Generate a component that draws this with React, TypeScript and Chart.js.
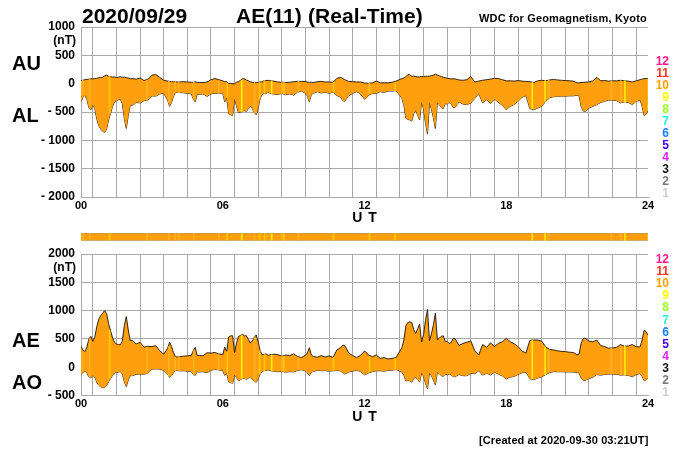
import { useEffect, useRef } from 'react';
import { Chart, registerables } from 'chart.js';

Chart.register(...registerables);

const FONT = '"Liberation Sans", Arial, sans-serif';
const GRID = '#a8a8a8';
const ORANGE = '#ff9f0d';
const OUTLINE = '#33240f';

// sample times in minutes of the day, one row per hour, closer together where the trace is sharp
const minutes = [
  0, 5, 10, 15, 20, 25, 30, 35, 40, 45, 50, 55,
  60, 65, 70, 75, 80, 85, 90, 95, 100, 105, 110, 115,
  120, 125, 130, 140, 150, 160, 170,
  180, 190, 200, 210, 220, 225, 230, 235,
  240, 250, 260, 270, 280, 285, 290, 295,
  300, 310, 320, 330, 340, 350,
  360, 365, 370, 375, 380, 385, 390, 395, 400, 405, 410, 415,
  420, 425, 430, 435, 440, 445, 450, 455, 460, 465, 470, 475,
  480, 490, 500, 510, 520, 530,
  540, 550, 560, 570, 575, 580, 585, 590,
  600, 610, 620, 630, 640, 650,
  660, 665, 670, 680, 690, 700, 710,
  720, 725, 730, 740, 750, 760, 770,
  780, 790, 800, 810, 815, 820, 825, 830, 835,
  840, 845, 850, 855, 860, 865, 870, 875, 880, 885, 890, 895,
  900, 905, 910, 915, 920, 925, 930, 935, 940, 945, 950, 955,
  960, 970, 980, 990, 1000, 1010,
  1020, 1030, 1040, 1050, 1060, 1070,
  1080, 1090, 1100, 1110, 1120, 1130,
  1140, 1150, 1160, 1170, 1180, 1190,
  1200, 1210, 1220, 1230, 1240, 1250,
  1260, 1265, 1270, 1275, 1280, 1290, 1300, 1310,
  1320, 1330, 1340, 1350, 1360, 1370,
  1380, 1390, 1400, 1410, 1420, 1425, 1430, 1435,
  1440,
];
const au = [
  55, 60, 70, 75, 80, 85, 85, 90, 95, 105, 110, 115,
  140, 150, 130, 125, 115, 120, 110, 115, 120, 115, 115, 105,
  100, 85, 90, 80, 100, 55, 80,
  150, 160, 110, 60, 45, 40, 35, 35,
  30, 30, 35, 30, 25, 25, 30, 25,
  20, 20, 30, 70, 90, 70,
  50, 35, 35, 5, 5, -5, -5, 30, 35, 60, 90, 85,
  65, 50, 35, 25, 15, 20, 20, 30, 30, 55, 55, 60,
  50, 45, 30, 25, 20, 25,
  35, 40, 40, 40, 30, 25, 25, 20,
  35, 40, 30, 30, 25, 95,
  110, 90, 70, 40, 35, 30, 30,
  10, 10, 5, 15, 45, 15, 15,
  15, 25, 45, 75, 90, 100, 120, 160, 160,
  130, 135, 125, 120, 120, 125, 125, 130, 130, 135, 140, 150,
  165, 155, 140, 125, 115, 105, 95, 90, 85, 85, 85, 75,
  65, 60, 70, 125, 30, 45,
  60, 70, 80, 95, 90, 70,
  50, 50, 45, 55, 45, 40,
  35, 20, 50, 60, 50, 65,
  75, 65, 60, 55, 50, 45,
  15, 15, 20, 22, 25, 30, 50, 110,
  50, 55, 45, 50, 50, 60,
  50, 45, 30, 50, 70, 80, 90, 90,
  95,
];
const al = [
  -315, -240, -205, -280, -420, -460, -370, -440, -620, -740, -800, -840,
  -860, -800, -640, -520, -410, -320, -300, -285, -275, -350, -620, -790,
  -560, -380, -390, -330, -340, -300, -290,
  -215, -220, -180, -170, -290, -400, -330, -220,
  -150, -155, -160, -170, -180, -270, -320, -180,
  -190, -180, -225, -180, -170, -165,
  -170, -320, -240, -530, -550, -560, -260, -400, -510, -500, -490, -470,
  -490, -440, -390, -440, -510, -550, -430, -260, -190, -170, -180, -150,
  -170, -185, -190, -170, -195, -180,
  -200, -150, -130, -170, -220, -320, -190, -170,
  -140, -165, -150, -170, -150, -210,
  -240, -300, -310, -210, -170, -140, -180,
  -275, -250, -210, -170, -170, -140, -155,
  -130, -130, -125, -210, -260, -380, -610, -630, -640,
  -660, -530, -470, -560, -640, -320, -450, -700, -890, -330, -450, -600,
  -790, -330, -370, -420, -440, -350, -360, -330, -350, -420, -420, -370,
  -320, -360, -370, -340, -260, -170,
  -340, -280, -350, -270, -330, -380,
  -460, -400, -370, -310, -240, -210,
  -440, -460, -430, -400, -310, -250,
  -230, -225, -220, -220, -215, -215,
  -205, -215, -400, -480, -490, -430, -400, -370,
  -330, -310, -290, -290, -300, -340,
  -320, -330, -370, -310, -290, -400, -560, -540,
  -470,
];
const ae = [
  370, 300, 275, 355, 500, 545, 455, 530, 715, 845, 910, 955,
  1000, 950, 770, 645, 525, 440, 410, 400, 395, 465, 735, 895,
  660, 465, 480, 410, 440, 355, 370,
  365, 380, 290, 230, 335, 440, 365, 255,
  180, 185, 195, 200, 205, 295, 350, 205,
  210, 200, 255, 250, 260, 235,
  220, 355, 275, 535, 555, 555, 255, 430, 545, 560, 580, 555,
  555, 490, 425, 465, 525, 570, 450, 290, 220, 225, 235, 210,
  220, 230, 220, 195, 215, 205,
  235, 190, 170, 210, 250, 345, 215, 190,
  175, 205, 180, 200, 175, 305,
  350, 390, 380, 250, 205, 170, 210,
  285, 260, 215, 185, 215, 155, 170,
  145, 155, 170, 285, 350, 480, 730, 790, 800,
  790, 665, 595, 680, 760, 445, 575, 830, 1020, 465, 590, 750,
  955, 485, 510, 545, 555, 455, 455, 420, 435, 505, 505, 445,
  385, 420, 440, 465, 290, 215,
  400, 350, 430, 365, 420, 450,
  510, 450, 415, 365, 285, 250,
  475, 480, 480, 460, 360, 315,
  305, 290, 280, 275, 265, 260,
  220, 230, 420, 502, 515, 460, 450, 480,
  380, 365, 335, 340, 350, 400,
  370, 375, 400, 360, 360, 480, 650, 630,
  565,
];
const ao = [
  -130, -90, -68, -103, -170, -188, -143, -175, -263, -318, -345, -363,
  -360, -325, -255, -198, -148, -100, -95, -85, -78, -118, -253, -343,
  -230, -148, -150, -125, -120, -123, -105,
  -33, -30, -35, -55, -123, -180, -148, -93,
  -60, -63, -63, -70, -78, -123, -145, -78,
  -85, -80, -98, -55, -40, -48,
  -60, -143, -103, -263, -273, -283, -133, -185, -238, -220, -200, -193,
  -213, -195, -178, -208, -248, -265, -205, -115, -80, -58, -63, -45,
  -60, -70, -80, -73, -88, -78,
  -83, -55, -45, -65, -95, -148, -83, -75,
  -53, -63, -60, -70, -63, -58,
  -65, -105, -120, -85, -68, -55, -75,
  -133, -120, -103, -78, -63, -63, -70,
  -58, -53, -40, -68, -85, -140, -245, -235, -240,
  -265, -198, -173, -220, -260, -98, -163, -285, -380, -98, -155, -225,
  -313, -88, -115, -148, -163, -123, -133, -120, -133, -168, -168, -148,
  -128, -150, -150, -108, -115, -63,
  -140, -105, -135, -88, -120, -155,
  -205, -175, -163, -128, -98, -85,
  -203, -220, -190, -170, -130, -93,
  -78, -80, -80, -83, -83, -85,
  -95, -100, -190, -229, -233, -200, -175, -130,
  -140, -128, -123, -120, -125, -140,
  -135, -143, -170, -130, -110, -160, -235, -225,
  -188,
];

// minutes where fewer stations reported: the yellow lines in the fill
const brightHours = [6.76, 8.03, 19.06, 19.6, 22.98, 23.98];
const midHours = [1.21, 6.19, 7.56, 7.77, 8.59, 10.69, 12.21, 13.3];
const weakHours = [0.12, 0.41, 2.83, 3.76, 4.03, 4.18, 4.81, 5.87, 7.39, 8.55, 9.25, 19.84, 22.49, 22.9];

const stationLabels = ['12', '11', '10', '9', '8', '7', '6', '5', '4', '3', '2', '1'];
const stationColors = ['#ff1a8c', '#ff3322', '#ffa000', '#ffff00', '#99ff22', '#22ffd5', '#1a80ff', '#4400ff', '#e622ff', '#111111', '#777777', '#cccccc'];

const toXY = (values: number[]) => values.map((y, i) => ({ x: minutes[i] / 60, y }));

function stripe(hrs: number[], lo: number[], hi: number[], color: string) {
  return {
    type: 'bar' as const,
    data: hrs.map((h) => {
      const a = minutes.findIndex((m) => m > h * 60) - 1;
      const b = a + 1;
      return { x: h, y: [Math.max(lo[a], lo[b]), Math.min(hi[a], hi[b])] };
    }),
    backgroundColor: color,
    barThickness: 1,
    order: 0,
  };
}

function panelConfig(upper: number[], lower: number[], yMin: number, yMax: number, top: number, bottom: number, height: number): any {
  return {
    data: {
      datasets: [
        { type: 'line', data: toXY(upper), borderColor: OUTLINE, borderWidth: 1, pointRadius: 0, tension: 0, fill: '+1', backgroundColor: ORANGE, order: 1 },
        { type: 'line', data: toXY(lower), borderColor: OUTLINE, borderWidth: 1, pointRadius: 0, tension: 0, fill: false, order: 1 },
        stripe(weakHours, lower, upper, '#ffb322'),
        stripe(midHours, lower, upper, '#ffc800'),
        stripe(brightHours, lower, upper, '#ffee00'),
      ],
    },
    options: {
      responsive: false,
      animation: false,
      layout: { padding: { top, right: 52, left: 0, bottom: 0 } },
      plugins: { legend: { display: false }, tooltip: { enabled: false } },
      scales: {
        x: {
          type: 'linear',
          min: 0,
          max: 24,
          offset: false,
          afterFit: (s: any) => { s.height = height - bottom; },
          grid: { color: GRID, drawTicks: false, lineWidth: 1 },
          border: { color: GRID },
          ticks: {
            stepSize: 1,
            autoSkip: false,
            maxRotation: 0,
            padding: 2,
            color: '#000',
            font: { family: FONT, size: 11, weight: 'bold' },
            callback: (v: number) => (v % 6 === 0 ? String(v).padStart(2, '0') : ''),
          },
        },
        y: {
          min: yMin,
          max: yMax,
          afterFit: (s: any) => { s.width = 81; },
          grid: { color: GRID, drawTicks: false, lineWidth: 1 },
          border: { color: GRID },
          ticks: {
            stepSize: 500,
            padding: 6,
            color: '#000',
            font: { family: FONT, size: 12, weight: 'bold' },
            callback: (v: number) => (v < 0 ? `- ${-v}` : String(v)),
          },
        },
      },
    },
  };
}

function stripConfig(): any {
  return {
    data: {
      datasets: [
        { type: 'line', data: [{ x: 0, y: 1 }, { x: 24, y: 1 }], borderColor: '#c08a30', borderWidth: 1, pointRadius: 0, fill: 'origin', backgroundColor: ORANGE, order: 1 },
        { type: 'line', data: [{ x: 0, y: 0 }, { x: 24, y: 0 }], borderColor: '#b0a080', borderWidth: 1, pointRadius: 0, fill: false, order: 1 },
        { type: 'bar', data: weakHours.map((x) => ({ x, y: [0, 1] })), backgroundColor: '#ffb322', barThickness: 1, order: 0 },
        { type: 'bar', data: midHours.map((x) => ({ x, y: [0, 1] })), backgroundColor: '#ffc800', barThickness: 1, order: 0 },
        { type: 'bar', data: brightHours.map((x) => ({ x, y: [0, 1] })), backgroundColor: '#ffee00', barThickness: 1, order: 0 },
      ],
    },
    options: {
      responsive: false,
      animation: false,
      plugins: { legend: { display: false }, tooltip: { enabled: false } },
      scales: {
        x: { type: 'linear', min: 0, max: 24, display: false, offset: false },
        y: { min: -0.1, max: 1.1, display: false },
      },
    },
  };
}

function Label({ x, y, text, size = 12, color = '#000', right = false, center = false, spacing = 0 }: any) {
  return (
    <span
      style={{
        position: 'absolute',
        top: y,
        left: right || center ? undefined : x,
        ...(right ? { right: 700 - x } : {}),
        ...(center ? { left: x, transform: 'translate(-50%, -50%)' } : { transform: 'translateY(-50%)' }),
        fontFamily: FONT,
        fontWeight: 'bold',
        fontSize: size,
        lineHeight: 1,
        color,
        letterSpacing: spacing,
        whiteSpace: 'pre',
      }}
    >
      {text}
    </span>
  );
}

export default function App() {
  const topRef = useRef<HTMLCanvasElement>(null);
  const stripRef = useRef<HTMLCanvasElement>(null);
  const bottomRef = useRef<HTMLCanvasElement>(null);

  useEffect(() => {
    document.body.style.margin = '0';
    document.body.style.background = '#fff';
    const charts = [
      new Chart(topRef.current!, panelConfig(au, al, -2000, 1000, 27, 197, 225)),
      new Chart(stripRef.current!, stripConfig()),
      new Chart(bottomRef.current!, panelConfig(ae, ao, -500, 2000, 29, 170.5, 225)),
    ];
    return () => charts.forEach((c) => c.destroy());
  }, []);

  return (
    <div style={{ position: 'relative', width: 700, height: 450, overflow: 'hidden', background: '#fff' }}>
      <canvas ref={topRef} width={700} height={225} style={{ position: 'absolute', left: 0, top: 0 }} />
      <canvas ref={stripRef} width={567} height={8} style={{ position: 'absolute', left: 81, top: 233 }} />
      <canvas ref={bottomRef} width={700} height={225} style={{ position: 'absolute', left: 0, top: 225 }} />

      <Label x={82} y={15} size={21} text="2020/09/29" />
      <Label x={236} y={15} size={21} text="AE(11) (Real-Time)" spacing={0.1} />
      <Label x={479} y={18} size={11} spacing={0.15} text="WDC for Geomagnetism, Kyoto" />
      <Label x={479} y={440} size={11} spacing={0.1} text="[Created at 2020-09-30 03:21UT]" />

      <Label x={12} y={63} size={20} text="AU" />
      <Label x={12} y={115} size={20} text="AL" />
      <Label x={12} y={340} size={20} text="AE" />
      <Label x={12} y={382} size={20} text="AO" />

      <Label x={76} y={40} right text="(nT)" />
      <Label x={76} y={267} right text="(nT)" />
      <Label x={365} y={217} center size={14} text="U T" spacing={1} />
      <Label x={365} y={416} center size={14} text="U T" spacing={1} />

      {stationLabels.map((t, i) => (
        <span key={t}>
          <Label x={669} y={61 + i * 12} right size={12} color={stationColors[i]} text={t} />
          <Label x={669} y={259 + i * 12.1} right size={12} color={stationColors[i]} text={t} />
        </span>
      ))}
    </div>
  );
}
